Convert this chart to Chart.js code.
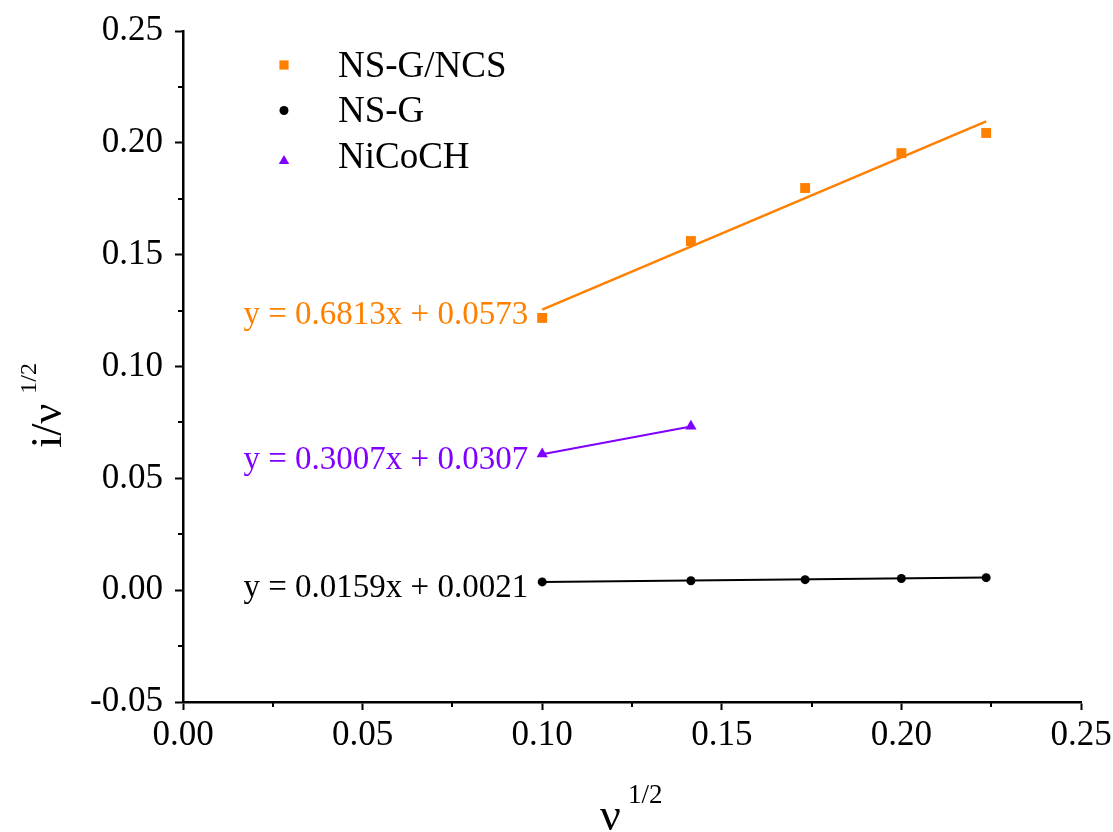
<!DOCTYPE html>
<html>
<head>
<meta charset="utf-8">
<script src="https://cdn.jsdelivr.net/npm/chart.js@4.4.1/dist/chart.umd.min.js"></script>
<style>
  html, body { margin: 0; padding: 0; background: #fff; }
  #wrap { width: 1113px; height: 832px; }
</style>
</head>
<body>
<div id="wrap"><canvas id="chart" width="1113" height="832"></canvas></div>
<script>
// x = square root of scan rate
const sqrtRate = [0.1, 0.1414, 0.1732, 0.2, 0.2236];
const nsgNcs = [0.1217, 0.1561, 0.1798, 0.1954, 0.2044];
const nsg = [0.0037, 0.0042, 0.0047, 0.0052, 0.0056];
const nicochX = [0.1, 0.1414];
const nicoch = [0.0609, 0.0733];

// fitted lines, end points
const fitX = [0.1, 0.2236];
const nsgNcsFit = [0.1254, 0.2096];
const nsgFit = [0.0037, 0.0057];
const nicochFitX = [0.1, 0.1414];
const nicochFit = [0.0608, 0.0732];

const seriesNames = ['NS-G/NCS', 'NS-G', 'NiCoCH'];
const fitLabels = ['y = 0.6813x + 0.0573', 'y = 0.0159x + 0.0021', 'y = 0.3007x + 0.0307'];

const ORANGE = '#ff8000';
const PURPLE = '#8000ff';
const BLACK = '#000000';
const SERIF = '"Liberation Serif", "Times New Roman", serif';

const pts = (xs, ys) => xs.map((x, i) => ({ x: x, y: ys[i] }));

const isMajor = v => Math.abs(Math.round(v / 0.05) * 0.05 - v) < 1e-9;
const fmt = v => (Math.abs(v) < 1e-9 ? 0 : v).toFixed(2);

const extras = {
    id: 'extras',
    afterDraw(chart) {
        const ctx = chart.ctx;
        const xs = chart.scales.x, ys = chart.scales.y;
        ctx.save();

        // minor ticks
        ctx.strokeStyle = BLACK;
        ctx.lineWidth = 2;
        ctx.beginPath();
        xs.ticks.forEach(t => {
            if (isMajor(t.value)) return;
            const px = Math.round(xs.getPixelForValue(t.value));
            ctx.moveTo(px, ys.bottom);
            ctx.lineTo(px, ys.bottom + 5);
        });
        ys.ticks.forEach(t => {
            if (isMajor(t.value)) return;
            const py = Math.round(ys.getPixelForValue(t.value));
            ctx.moveTo(xs.left, py);
            ctx.lineTo(xs.left - 5, py);
        });
        ctx.stroke();

        // equations of the fits
        ctx.font = '33px ' + SERIF;
        ctx.textAlign = 'right';
        ctx.textBaseline = 'middle';
        const eqs = [
            [fitLabels[0], nsgNcsFit[0], ORANGE],
            [fitLabels[1], nsgFit[0], BLACK],
            [fitLabels[2], nicochFit[0], PURPLE]
        ];
        eqs.forEach(([txt, yv, col]) => {
            ctx.fillStyle = col;
            ctx.fillText(txt, xs.getPixelForValue(fitX[0]) - 14, ys.getPixelForValue(yv) + 6);
        });

        // legend
        const marks = [
            { pointStyle: 'rect', radius: 6.5, color: ORANGE, dy: 0 },
            { pointStyle: 'circle', radius: 4.5, color: BLACK, dy: 0 },
            { pointStyle: 'triangle', radius: 6, color: PURPLE, dy: 5 }
        ];
        ctx.font = '37px ' + SERIF;
        ctx.textAlign = 'left';
        marks.forEach((m, i) => {
            const ly = 65 + i * 45.5;
            ctx.fillStyle = m.color;
            ctx.strokeStyle = m.color;
            Chart.helpers.drawPoint(ctx, { pointStyle: m.pointStyle, radius: m.radius, rotation: 0, borderWidth: 0 }, 284, ly + m.dy);
            ctx.fillStyle = BLACK;
            ctx.fillText(seriesNames[i], 338, ly + 2);
        });

        // axis titles
        ctx.fillStyle = BLACK;
        ctx.textBaseline = 'alphabetic';
        ctx.font = '46px ' + SERIF;
        ctx.fillText('\u03bd', 600, 830);
        ctx.font = '27px ' + SERIF;
        ctx.fillText('1/2', 628, 803);

        ctx.translate(61, 448);
        ctx.rotate(-Math.PI / 2);
        ctx.font = '44px ' + SERIF;
        ctx.fillText('i/\u03bd', 0, 0);
        const w = ctx.measureText('i/\u03bd').width;
        ctx.font = '24px ' + SERIF;
        ctx.fillText('1/2', w + 10, -25);
        ctx.restore();
    }
};

const tickFont = { family: SERIF, size: 35 };

new Chart(document.getElementById('chart'), {
    type: 'scatter',
    data: {
        datasets: [
            { label: seriesNames[0], data: pts(sqrtRate, nsgNcs), pointStyle: 'rect', pointRadius: 7, backgroundColor: ORANGE, borderColor: ORANGE, borderWidth: 0 },
            { label: seriesNames[1], data: pts(sqrtRate, nsg), pointStyle: 'circle', pointRadius: 4.5, backgroundColor: BLACK, borderColor: BLACK, borderWidth: 0 },
            { label: seriesNames[2], data: pts(nicochX, nicoch), pointStyle: 'triangle', pointRadius: 6.5, backgroundColor: PURPLE, borderColor: PURPLE, borderWidth: 0 },
            { label: 'fit1', data: pts(fitX, nsgNcsFit), showLine: true, pointRadius: 0, borderColor: ORANGE, borderWidth: 2.5 },
            { label: 'fit2', data: pts(fitX, nsgFit), showLine: true, pointRadius: 0, borderColor: BLACK, borderWidth: 2 },
            { label: 'fit3', data: pts(nicochFitX, nicochFit), showLine: true, pointRadius: 0, borderColor: PURPLE, borderWidth: 2 }
        ]
    },
    options: {
        responsive: false,
        animation: false,
        layout: { padding: { left: 0, right: 32, top: 31, bottom: 0 } },
        plugins: { legend: { display: false }, tooltip: { enabled: false } },
        scales: {
            x: {
                type: 'linear',
                min: 0, max: 0.25,
                border: { display: true, color: BLACK, width: 2.5 },
                grid: { drawOnChartArea: false, tickLength: 8, tickWidth: 2, color: c => (c.tick && isMajor(c.tick.value)) ? BLACK : 'rgba(0,0,0,0)' },
                ticks: {
                    stepSize: 0.025, autoSkip: false, maxRotation: 0, color: BLACK, font: tickFont, padding: 5,
                    callback: v => isMajor(v) ? fmt(v) : ''
                },
                afterFit: s => { s.height = 130; s.paddingLeft = 0; s.paddingRight = 0; }
            },
            y: {
                type: 'linear',
                min: -0.05, max: 0.25,
                border: { display: true, color: BLACK, width: 2.5 },
                grid: { drawOnChartArea: false, tickLength: 8, tickWidth: 2, color: c => (c.tick && isMajor(c.tick.value)) ? BLACK : 'rgba(0,0,0,0)' },
                ticks: {
                    stepSize: 0.025, autoSkip: false, color: BLACK, font: tickFont, padding: 12,
                    callback: v => isMajor(v) ? fmt(v) : ''
                },
                afterFit: s => { s.width = 183; s.paddingTop = 0; s.paddingBottom = 0; }
            }
        }
    },
    plugins: [extras]
});
</script>
</body>
</html>
